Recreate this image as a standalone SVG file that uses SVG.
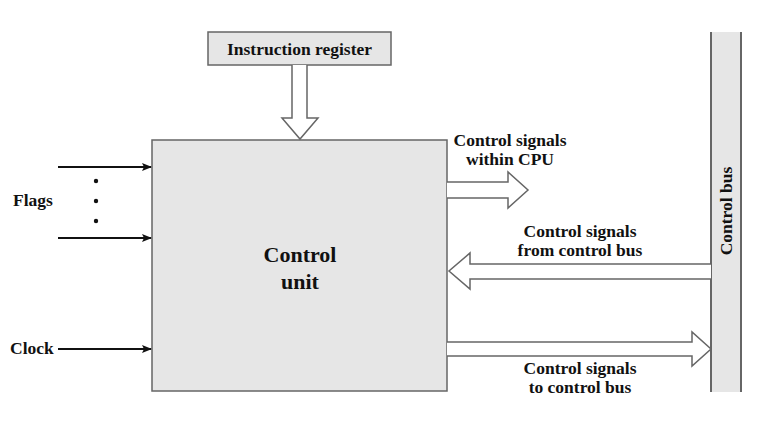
<svg xmlns="http://www.w3.org/2000/svg" width="780" height="428" viewBox="0 0 780 428">
<defs>
<style>
.t{font-family:"Liberation Serif",serif;font-weight:bold;font-size:17.5px;fill:#111;}
.big{font-size:22px;}
.box{fill:#e6e6e6;stroke:#666;stroke-width:1.5;}
.fat{fill:#fff;stroke:#666;stroke-width:1.5;stroke-linejoin:miter;}
.ln{stroke:#111;stroke-width:2;fill:none;}
</style>
<marker id="ah" markerWidth="10" markerHeight="8" refX="9" refY="4" orient="auto" markerUnits="userSpaceOnUse">
<path d="M0,0 L10,4 L0,8 L2,4 Z" fill="#111"/>
</marker>
</defs>
<rect width="780" height="428" fill="#fff"/>
<g id="bus">
<rect x="711" y="32" width="30" height="360" fill="#e6e6e6"/>
<line x1="711" y1="32" x2="711" y2="392" stroke="#666" stroke-width="2"/>
<line x1="741" y1="32" x2="741" y2="392" stroke="#666" stroke-width="2"/>
<text class="t" transform="translate(732,211) rotate(-90)" text-anchor="middle">Control bus</text>
</g>
<g id="ir">
<rect class="box" x="208" y="32" width="183" height="33"/>
<text class="t" x="299.5" y="55" text-anchor="middle">Instruction register</text>
</g>
<g id="cu">
<rect class="box" x="152" y="140" width="295" height="251"/>
<text class="t big" x="300" y="262" text-anchor="middle">Control</text>
<text class="t big" x="300" y="289" text-anchor="middle">unit</text>
</g>
<g id="connectors">
<path class="fat" d="M292,65 L292,118 L282,118 L300,139 L318,118 L307,118 L307,65"/>
<path class="fat" d="M447,182 L508,182 L508,172 L528,190 L508,208 L508,198 L447,198"/>
<path class="fat" d="M711,264 L470,264 L470,253 L449,271 L470,289 L470,279 L711,279"/>
<path class="fat" d="M447,342 L692,342 L692,332 L711,349 L692,366 L692,356 L447,356"/>
<line class="ln" x1="58" y1="167" x2="151" y2="167" marker-end="url(#ah)"/>
<line class="ln" x1="58" y1="238" x2="151" y2="238" marker-end="url(#ah)"/>
<line class="ln" x1="58" y1="349" x2="151" y2="349" marker-end="url(#ah)"/>
<circle cx="96" cy="181" r="2.2" fill="#111"/>
<circle cx="96" cy="201" r="2.2" fill="#111"/>
<circle cx="96" cy="221" r="2.2" fill="#111"/>
</g>
<g id="labels">
<text class="t" x="13" y="206">Flags</text>
<text class="t" x="10" y="354">Clock</text>
<text class="t" x="510" y="146" text-anchor="middle">Control signals</text>
<text class="t" x="510" y="165" text-anchor="middle">within CPU</text>
<text class="t" x="580" y="237" text-anchor="middle">Control signals</text>
<text class="t" x="580" y="256" text-anchor="middle">from control bus</text>
<text class="t" x="580" y="374" text-anchor="middle">Control signals</text>
<text class="t" x="580" y="393" text-anchor="middle">to control bus</text>
</g>
</svg>
